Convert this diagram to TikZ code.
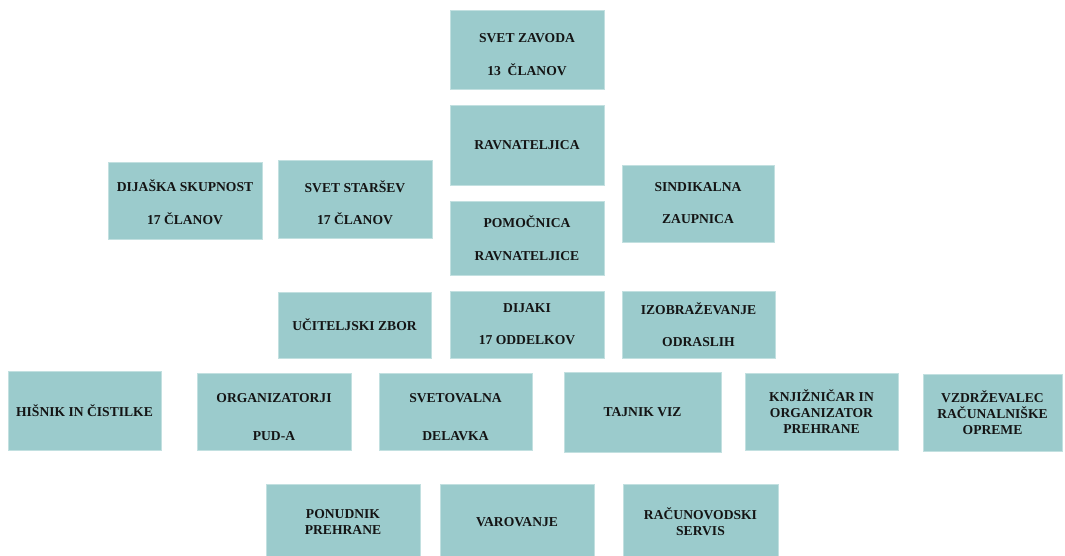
\documentclass[tikz,border=0pt]{standalone}
\usepackage{fontspec}
\setmainfont{Liberation Serif}
\definecolor{boxfill}{HTML}{9BCBCC}
\definecolor{boxedge}{HTML}{C2E0E0}
\newcommand{\lowtext}[2]{\raisebox{-#1}[\height][\depth]{\begin{tabular}{@{}c@{}}#2\end{tabular}}}
\begin{document}
\begin{tikzpicture}[x=1pt,y=-1pt,
  box/.style={rectangle, fill=boxfill, draw=boxedge, line width=0.8pt, inner sep=0pt, align=center,
    font=\fontsize{13.6}{16}\selectfont\bfseries, text=black!92}]
\useasboundingbox (0,0) rectangle (1065,556);
\node[box, minimum width=154pt, minimum height=79pt] (sz) at (527,49.5) {\lowtext{6.5pt}{SVET ZAVODA\\[16pt]13\ \ ČLANOV}};
\node[box, minimum width=154pt, minimum height=80pt] (rav) at (527,145) {RAVNATELJICA};
\node[box, minimum width=154pt, minimum height=74pt] (pom) at (527,238) {POMOČNICA\\[17pt]RAVNATELJICE};
\node[box, minimum width=154pt, minimum height=77pt] (dij) at (185,200.5) {\lowtext{4pt}{DIJAŠKA SKUPNOST\\[16pt]17 ČLANOV}};
\node[box, minimum width=154pt, minimum height=78pt] (ss) at (355,199) {\lowtext{6pt}{SVET STARŠEV\\[16pt]17 ČLANOV}};
\node[box, minimum width=152pt, minimum height=77pt] (sin) at (698,203.5) {SINDIKALNA\\[16pt]ZAUPNICA};
\node[box, minimum width=153pt, minimum height=66pt] (uz) at (354.5,325) {UČITELJSKI ZBOR};
\node[box, minimum width=154pt, minimum height=67pt] (dijaki) at (527,324.5) {DIJAKI\\[16pt]17 ODDELKOV};
\node[box, minimum width=153pt, minimum height=67pt] (izo) at (698.5,324.5) {IZOBRAŽEVANJE\\[16pt]ODRASLIH};
\node[box, minimum width=153pt, minimum height=79pt] (his) at (84.5,410.5) {HIŠNIK IN ČISTILKE};
\node[box, minimum width=154pt, minimum height=77pt] (org) at (274,411.5) {\lowtext{7pt}{ORGANIZATORJI\\[22pt]PUD-A}};
\node[box, minimum width=153pt, minimum height=77pt] (svt) at (455.5,411.5) {\lowtext{7pt}{SVETOVALNA\\[22pt]DELAVKA}};
\node[box, minimum width=157pt, minimum height=80pt] (taj) at (642.5,412) {TAJNIK VIZ};
\node[box, minimum width=153pt, minimum height=77pt] (knj) at (821.5,411.5) {KNJIŽNIČAR IN\\ORGANIZATOR\\PREHRANE};
\node[box, minimum width=139pt, minimum height=77pt] (vzd) at (992.5,412.5) {VZDRŽEVALEC\\RAČUNALNIŠKE\\OPREME};
\node[box, minimum width=154pt, minimum height=76pt] (pon) at (343,522) {PONUDNIK\\PREHRANE};
\node[box, minimum width=154pt, minimum height=76pt] (var) at (517,522) {VAROVANJE};
\node[box, minimum width=155pt, minimum height=76pt] (rac) at (700.5,522) {RAČUNOVODSKI\\SERVIS};
\end{tikzpicture}
\end{document}
